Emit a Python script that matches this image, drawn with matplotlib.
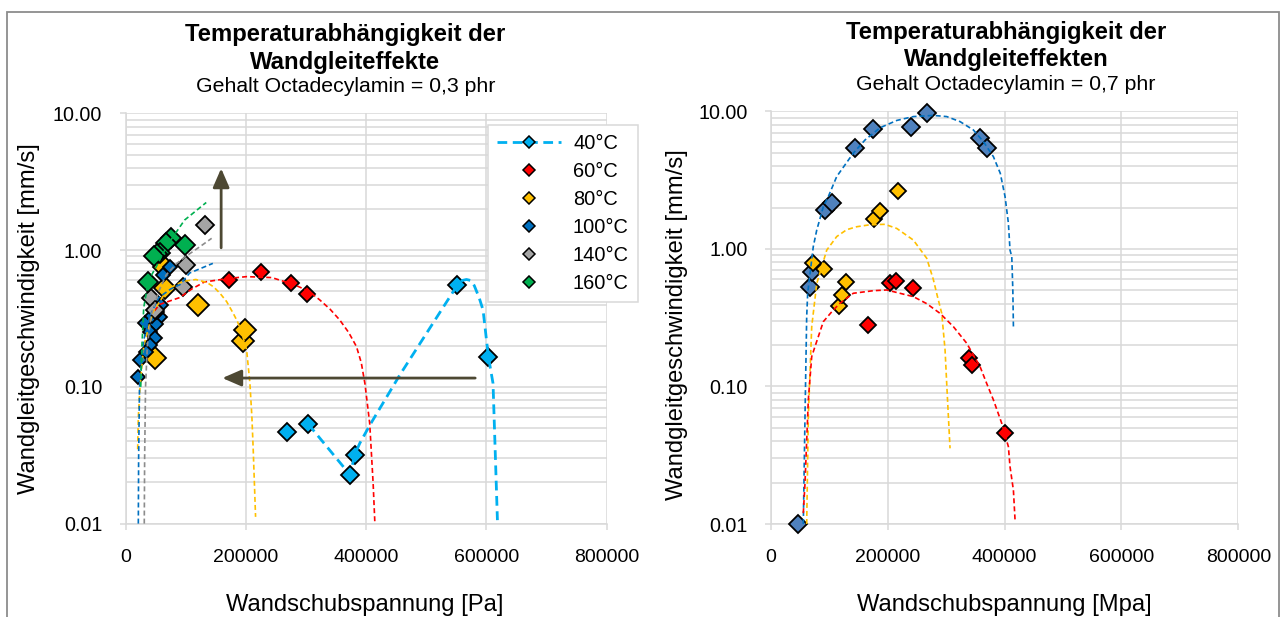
import matplotlib
matplotlib.use("Agg")
import matplotlib.pyplot as plt
from matplotlib.lines import Line2D
from matplotlib.patches import Rectangle, ArrowStyle
from matplotlib.ticker import FixedLocator, LogLocator, NullFormatter, FuncFormatter

plt.rcParams['font.family'] = ['Liberation Sans', 'DejaVu Sans']
plt.rcParams['lines.scale_dashes'] = False

# ---- data, left chart (0,3 phr) ----
temps = ['40°C', '60°C', '80°C', '100°C', '140°C', '160°C']

t40_x = [268700, 303600, 373400, 381200, 552000, 603500]
t40_y = [0.047, 0.0535, 0.0227, 0.032, 0.556, 0.166]
line40_x = [303600, 373400, 381200, 389500, 406200, 456000, 552000, 560000, 567000,
            574000, 580000, 588000, 594600, 603500, 611200, 618500]
line40_y = [0.0535, 0.0227, 0.032, 0.0387, 0.0525, 0.122, 0.556, 0.60, 0.61,
            0.60, 0.55, 0.45, 0.365, 0.166, 0.106, 0.0106]

t60_x = [172200, 224400, 274800, 301900]
t60_y = [0.60, 0.696, 0.573, 0.478]
fit60_x = [48000, 56000, 70000, 90000, 110000, 131000, 170000, 201000, 243000,
           280000, 305000, 323000, 340000, 356000, 371000, 384000, 392000, 398000,
           406000, 411700, 414500]
fit60_y = [0.36, 0.40, 0.42, 0.45, 0.52, 0.585, 0.62, 0.64, 0.63,
           0.56, 0.50, 0.432, 0.37, 0.309, 0.25, 0.197, 0.15, 0.106,
           0.054, 0.0197, 0.0103]

t80_x = [48200, 64800, 63000, 120200, 194500, 198300]
t80_y = [0.162, 0.526, 0.75, 0.397, 0.218, 0.261]
fit80_x = [19900, 21000, 23800, 30000, 45000, 70000, 95000, 116700, 135000,
           146000, 156800, 168000, 178900, 186000, 193000, 201200, 206700, 210000,
           212200, 216100]
fit80_y = [0.035, 0.06, 0.10, 0.20, 0.35, 0.52, 0.59, 0.61, 0.58,
           0.54, 0.484, 0.42, 0.345, 0.30, 0.25, 0.186, 0.106, 0.06,
           0.0345, 0.0112]

t100_x = [73100, 62000, 59200, 56500, 31600, 50900, 39900, 48200, 39900,
          34300, 23300, 20500, 44000, 52000]
t100_y = [0.757, 0.659, 0.397, 0.326, 0.292, 0.29, 0.253, 0.227, 0.203,
          0.181, 0.157, 0.119, 0.33, 0.35]
fit100_x = [21000, 21500, 23000, 30000, 40000, 55000, 75000, 90300, 106400, 145000]
fit100_y = [0.01, 0.03, 0.10, 0.22, 0.33, 0.45, 0.52, 0.56, 0.68, 0.80]

t140_x = [131300, 100800, 95300, 42600, 48200]
t140_y = [1.53, 0.78, 0.535, 0.45, 0.365]
fit140_x = [30900, 31500, 33000, 36000, 42000, 55000, 67500, 85000, 100000, 123500, 143000]
fit140_y = [0.01, 0.03, 0.10, 0.20, 0.33, 0.50, 0.66, 0.80, 0.90, 1.06, 1.22]

t160_x = [98100, 75800, 67500, 57000, 52000, 47000, 37100]
t160_y = [1.09, 1.22, 1.12, 0.96, 0.93, 0.90, 0.588]
fit160_x = [25000, 27000, 30000, 38000, 51000, 70000, 98000, 134000]
fit160_y = [0.10, 0.20, 0.38, 0.60, 0.76, 1.10, 1.66, 2.23]

# arrows in left chart
arrow_up = ((158800, 1.04), (158800, 3.96))
arrow_left = ((581500, 0.116), (160800, 0.116))

# ---- data, right chart (0,7 phr) ----
r100_x = [46800, 66800, 69700, 92500, 103900, 143800, 175200, 239200, 266600, 357900, 369300]
r100_y = [0.01, 0.532, 0.684, 1.92, 2.17, 5.4, 7.42, 7.75, 9.8, 6.38, 5.4]
rfit100_x = [55300, 58200, 61100, 62800, 72400, 78300, 89600, 98100, 112500, 140900,
             161000, 186600, 215500, 243700, 278000, 300800, 323600, 346400, 363600,
             380700, 392500, 400700, 406400, 409200, 412200, 414000, 415000]
rfit100_y = [0.01, 0.0603, 0.322, 0.476, 1.04, 1.37, 2.03, 2.4, 3.36, 4.97,
             6.2, 7.6, 8.6, 9.17, 9.35, 9.17, 8.43, 7.33, 6.03,
             4.69, 3.55, 2.4, 1.54, 0.98, 0.88, 0.503, 0.272]

r80_x = [72400, 90800, 115900, 122100, 128400, 176400, 186600, 218000]
r80_y = [0.795, 0.712, 0.385, 0.463, 0.578, 1.64, 1.90, 2.64]
rfit80_x = [61100, 63900, 69700, 78300, 95400, 112500, 129600, 146700, 170000, 195000,
            215200, 243700, 266600, 277900, 285000, 292300, 298000, 300800, 303700,
            306500]
rfit80_y = [0.01, 0.06, 0.272, 0.56, 0.98, 1.23, 1.38, 1.45, 1.50, 1.51,
            1.41, 1.16, 0.855, 0.60, 0.45, 0.34, 0.184, 0.105, 0.0603,
            0.0355]

r60_x = [165600, 203800, 214000, 243700, 339600, 344200, 400200]
r60_y = [0.279, 0.563, 0.588, 0.518, 0.160, 0.143, 0.0461]
rfit60_x = [55300, 58200, 63900, 69700, 75300, 89600, 106700, 118200, 140900, 175200,
            198100, 243700, 266600, 289400, 312300, 335100, 358000, 369300, 380700,
            395000, 406400, 409200, 415000, 417800]
rfit60_y = [0.012, 0.0198, 0.08, 0.165, 0.195, 0.296, 0.36, 0.403, 0.476, 0.497,
            0.503, 0.45, 0.40, 0.34, 0.272, 0.206, 0.139, 0.105, 0.080,
            0.054, 0.0365, 0.0261, 0.0176, 0.0107]

x_ticks = [0, 200000, 400000, 600000, 800000]
y_ticks = [0.01, 0.1, 1, 10]

C40, C60, C80, C100, C140, C160 = '#00B0F0', '#FF0000', '#FFC000', '#0070C0', '#A5A5A5', '#00B050'
CBLUE_R = '#4F81BD'
GRID = '#D9D9D9'
ARROW = '#4D4833'

W, H = 1282, 617
fig = plt.figure(figsize=(W / 100, H / 100), dpi=100)
fig.patch.set_facecolor('white')


def px_box(x0, y0, x1, y1):
    return [x0 / W, 1 - y1 / H, (x1 - x0) / W, (y1 - y0) / H]


def style_axes(ax):
    ax.set_yscale('log')
    ax.set_xlim(0, 800000)
    ax.set_ylim(0.01, 10)
    ax.xaxis.set_major_locator(FixedLocator(x_ticks))
    ax.xaxis.set_major_formatter(FuncFormatter(lambda v, p: f'{int(v)}'))
    ax.yaxis.set_major_locator(FixedLocator(y_ticks))
    ax.yaxis.set_major_formatter(FuncFormatter(lambda v, p: f'{v:.2f}'))
    ax.yaxis.set_minor_locator(LogLocator(base=10, subs=range(2, 10)))
    ax.yaxis.set_minor_formatter(NullFormatter())
    ax.grid(True, which='major', color=GRID, lw=1.1, zorder=0)
    ax.grid(True, which='minor', axis='y', color=GRID, lw=1.1, zorder=0)
    ax.set_axisbelow(True)
    for s in ('top', 'right'):
        ax.spines[s].set_visible(False)
    for s in ('left', 'bottom'):
        ax.spines[s].set_color(GRID)
        ax.spines[s].set_linewidth(1.1)
    ax.tick_params(axis='both', which='major', direction='out', length=4.3,
                   width=1.1, color=GRID, labelsize=14, labelcolor='#000000')
    ax.tick_params(axis='y', which='major', pad=12.5, labelsize=14.2)
    ax.tick_params(axis='x', which='major', pad=14)
    ax.tick_params(axis='y', which='minor', length=0)


def dashed(ax, x, y, color, lw=1.2, dash=(3.6, 2.2)):
    ax.plot(x, y, color=color, lw=lw, dashes=dash, zorder=4)


def diamonds(ax, x, y, color, ms):
    ax.plot(x, y, ls='none', marker='D', ms=ms, mfc=color, mec='black',
            mew=1.3, zorder=3, clip_on=False)


# ---------------- left chart ----------------
axL = fig.add_axes(px_box(125.7, 113.4, 606.5, 523.6))
style_axes(axL)

diamonds(axL, t40_x, t40_y, C40, 8.8)
diamonds(axL, t60_x, t60_y, C60, 8.3)
diamonds(axL, t80_x, t80_y, C80, 11.5)
diamonds(axL, t100_x, t100_y, C100, 7.5)
diamonds(axL, t140_x, t140_y, C140, 9)
diamonds(axL, t160_x, t160_y, C160, 10)

dashed(axL, line40_x, line40_y, C40, lw=2.0, dash=(7, 4))
dashed(axL, fit60_x, fit60_y, C60)
dashed(axL, fit80_x, fit80_y, C80)
dashed(axL, fit100_x, fit100_y, C100)
dashed(axL, fit140_x, fit140_y, '#8C8C8C')
dashed(axL, fit160_x, fit160_y, C160)

head = ArrowStyle('-|>', head_length=1.15, head_width=0.5)
for start, end in (arrow_up, arrow_left):
    axL.annotate('', xy=end, xytext=start,
                 arrowprops=dict(arrowstyle=head, color=ARROW, lw=2,
                                 mutation_scale=10, shrinkA=0, shrinkB=0),
                 zorder=6)

handles = [Line2D([], [], color=C40, lw=2.0, dashes=(7, 4), marker='D', ms=6.5,
                  mfc=C40, mec='black', mew=1.1)]
for c in (C60, C80, C100, C140, C160):
    handles.append(Line2D([], [], ls='none', marker='D', ms=6.5, mfc=c,
                          mec='black', mew=1.1))
leg = axL.legend(handles, temps, loc='upper left',
                 bbox_to_anchor=(488 / W, 1 - 125 / H),
                 bbox_transform=fig.transFigure, fontsize=14.4, frameon=True,
                 fancybox=False, framealpha=1, edgecolor=GRID, borderpad=0.45,
                 labelspacing=0.45, handlelength=3.2, handletextpad=0.6,
                 borderaxespad=0)
leg.get_frame().set_linewidth(1.1)
leg.set_zorder(10)

axL.set_ylabel('Wandgleitgeschwindigkeit [mm/s]', fontsize=17.1, va='center')
axL.yaxis.set_label_coords((28.6 - 125.7) / 480.8, 0.5)
axL.set_xlabel('Wandschubspannung [Pa]', fontsize=17.1, va='baseline')
axL.xaxis.set_label_coords((365 - 125.7) / 480.8, -(611 - 523.6) / 410.2)

fig.text(345.5 / W, 1 - 41 / H, 'Temperaturabhängigkeit der', ha='center',
         va='baseline', fontsize=17.2, fontweight='bold')
fig.text(345.5 / W, 1 - 68.5 / H, 'Wandgleiteffekte', ha='center',
         va='baseline', fontsize=17.2, fontweight='bold')
fig.text(345.5 / W, 1 - 92.5 / H, 'Gehalt Octadecylamin = 0,3 phr', ha='center',
         va='baseline', fontsize=15.3)

# ---------------- right chart ----------------
axR = fig.add_axes(px_box(771, 111.4, 1238.3, 524))
style_axes(axR)

diamonds(axR, r100_x, r100_y, CBLUE_R, 8.8)
diamonds(axR, r80_x, r80_y, C80, 8.3)
diamonds(axR, r60_x, r60_y, C60, 8.5)

dashed(axR, rfit100_x, rfit100_y, C100)
dashed(axR, rfit80_x, rfit80_y, C80)
dashed(axR, rfit60_x, rfit60_y, C60)

axR.set_ylabel('Wandgleitgeschwindigkeit [mm/s]', fontsize=17.1, va='center')
axR.yaxis.set_label_coords((677 - 771) / 467.3, (524 - 325) / 412.6)
axR.set_xlabel('Wandschubspannung [Mpa]', fontsize=17.1, va='baseline')
axR.xaxis.set_label_coords((1004.5 - 771) / 467.3, -(611 - 524) / 412.6)

fig.text(1006.5 / W, 1 - 38.6 / H, 'Temperaturabhängigkeit der', ha='center',
         va='baseline', fontsize=17.2, fontweight='bold')
fig.text(1006.5 / W, 1 - 66 / H, 'Wandgleiteffekten', ha='center',
         va='baseline', fontsize=17.2, fontweight='bold')
fig.text(1006 / W, 1 - 90.5 / H, 'Gehalt Octadecylamin = 0,7 phr', ha='center',
         va='baseline', fontsize=15.3)

# outer chart frame
fig.patches.append(Rectangle((7 / W, -0.05), (1279 - 7) / W, 1.05 - 12 / H,
                             transform=fig.transFigure, fill=False,
                             edgecolor='#8C8C8C', lw=1.3, zorder=20))

fig.savefig('out.png', dpi=100)
